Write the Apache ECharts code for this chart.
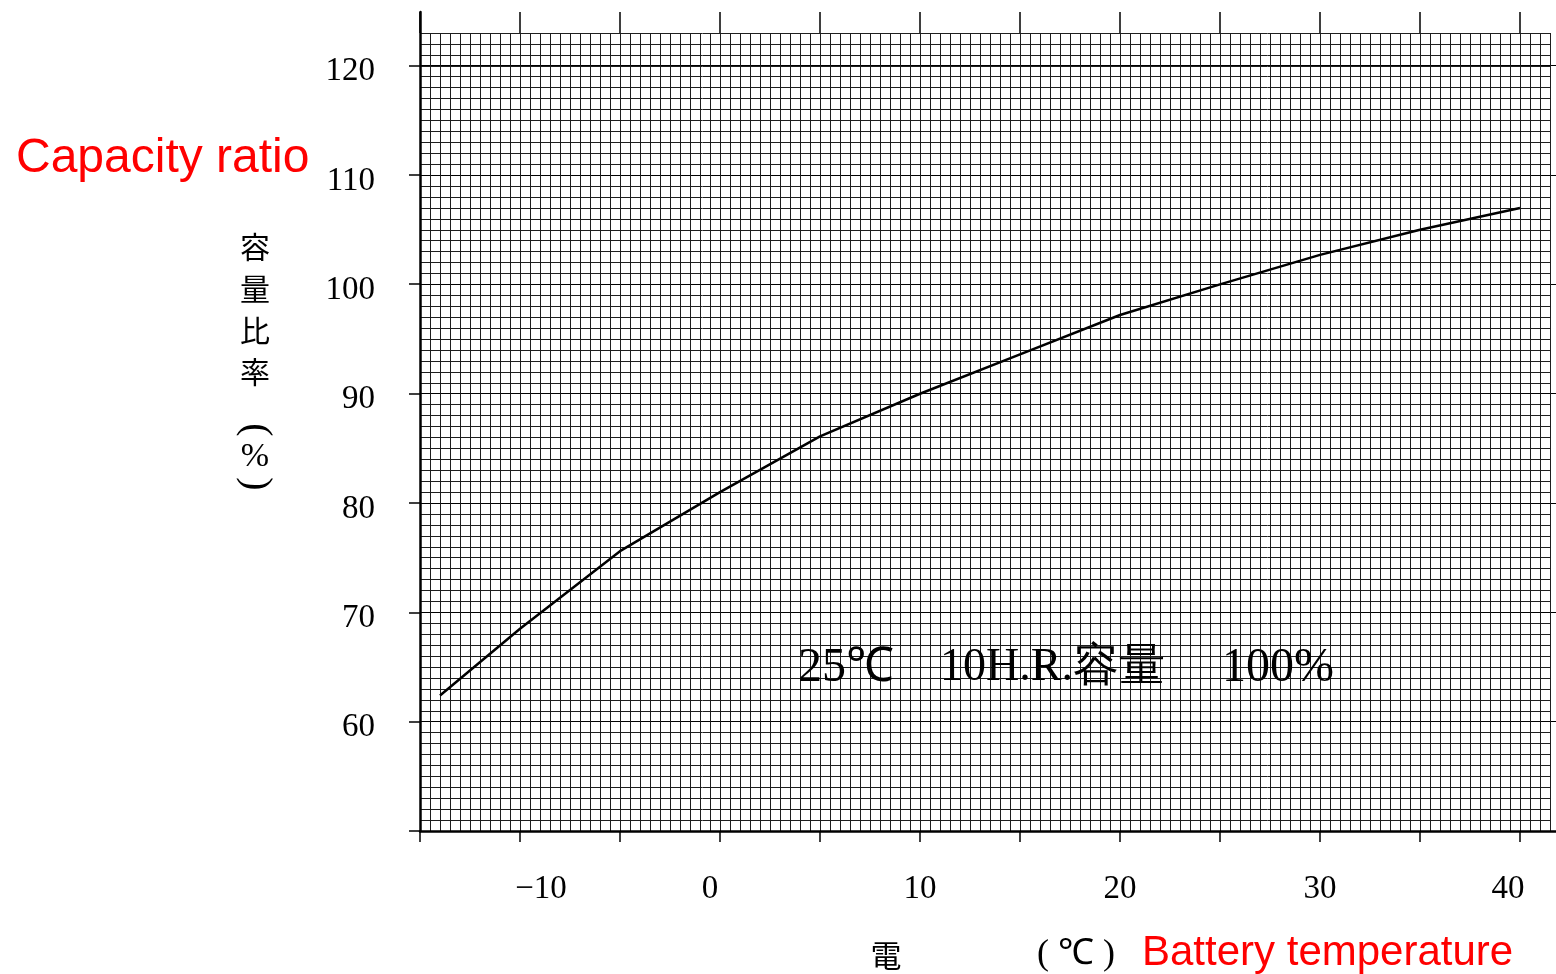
<!DOCTYPE html>
<html>
<head>
<meta charset="utf-8">
<script src="https://cdn.jsdelivr.net/npm/echarts@6/dist/echarts.min.js"></script>
<style>
  html, body { margin: 0; padding: 0; background: #fff; overflow: hidden; }
  #chart { width: 1556px; height: 974px; }
</style>
</head>
<body>
<div id="chart"></div>
<script>
// battery temperature (℃) vs capacity ratio (%)
var temps = [-14, -10, -5, 0, 5, 10, 15, 20, 25, 30, 35, 40];
var ratios = [62.4, 68.5, 75.6, 81.0, 86.1, 90.0, 93.6, 97.2, 100.0, 102.7, 105.0, 107.0];
var xLabels = [-10, 0, 10, 20, 30, 40];
var yLabels = [60, 70, 80, 90, 100, 110, 120];

var serif = 'Liberation Serif';
var cjk = 'Noto Sans CJK JP';

var mychart = echarts.init(document.getElementById('chart'));

var points = temps.map(function (t, i) { return [t, ratios[i]]; });

option = {
    animation: false,
    grid: [
        // fine graph paper
        { left: 420, top: 33, width: 1130, height: 798, outerBoundsMode: 'none' },
        // main axis lines (run past the right edge)
        { left: 420, top: 12, width: 1156, height: 819, outerBoundsMode: 'none' },
        // y labels + major lines
        { left: 420, top: 65.5, width: 1156, height: 765.5, outerBoundsMode: 'none' }
    ],
    xAxis: [
        {
            gridIndex: 0, type: 'value', min: -15, max: 41.5, interval: 0.5,
            axisLine: { show: false }, axisTick: { show: false }, axisLabel: { show: false },
            splitLine: { show: true, lineStyle: { color: '#1e1e1e', width: 1 } }
        },
        {
            gridIndex: 1, type: 'value', position: 'bottom', min: -15, max: 42.8, interval: 5,
            axisLine: { show: true, onZero: false, lineStyle: { color: '#000', width: 2.5 } },
            axisTick: { show: true, length: 11, lineStyle: { color: '#000', width: 1.5 } },
            axisLabel: {
                show: true, margin: 42, color: '#000', fontFamily: serif, fontSize: 33,
                formatter: function (v) {
                    if (xLabels.indexOf(v) < 0) return '';
                    if (v < 0) return '{r|\u2212' + Math.abs(v) + '}';
                    if (v === 0) return '{l|0}';
                    if (v === 40) return '{l2|40}';
                    return String(v);
                },
                rich: {
                    r: { fontFamily: serif, fontSize: 33, color: '#000', padding: [0, 0, 0, 42] },
                    l: { fontFamily: serif, fontSize: 33, color: '#000', padding: [0, 20, 0, 0] },
                    l2: { fontFamily: serif, fontSize: 33, color: '#000', padding: [0, 24, 0, 0] }
                }
            },
            splitLine: { show: false }
        },
        {
            gridIndex: 1, type: 'value', position: 'top', min: -15, max: 42.8, interval: 5,
            axisLine: { show: false, onZero: false },
            axisTick: { show: true, inside: true, length: 21, lineStyle: { color: '#000', width: 1.5 } },
            axisLabel: { show: false },
            splitLine: { show: false }
        },
        {
            gridIndex: 2, type: 'value', min: -15, max: 42.8, show: false
        }
    ],
    yAxis: [
        {
            gridIndex: 0, type: 'value', min: 50, max: 123, interval: 1,
            axisLine: { show: false }, axisTick: { show: false }, axisLabel: { show: false },
            splitLine: { show: true, lineStyle: { color: '#1e1e1e', width: 1 } }
        },
        {
            gridIndex: 1, type: 'value', min: 50, max: 125,
            axisLine: { show: true, onZero: false, lineStyle: { color: '#000', width: 2.5 } },
            axisTick: { show: false }, axisLabel: { show: false }, splitLine: { show: false }
        },
        {
            gridIndex: 2, type: 'value', min: 50, max: 120, interval: 10,
            axisLine: { show: false, onZero: false },
            axisTick: { show: true, length: 11, lineStyle: { color: '#000', width: 1.5 } },
            axisLabel: {
                show: true, margin: 45, color: '#000',
                formatter: function (v) { return yLabels.indexOf(v) < 0 ? '' : '{n|' + v + '}'; },
                rich: {
                    n: { fontFamily: serif, fontSize: 33, color: '#000', padding: [12, 0, 0, 0] }
                }
            },
            splitLine: { show: true, showMinLine: false, lineStyle: { color: '#000', width: 1.2 } }
        }
    ],
    graphic: [
        {
            type: 'text', left: 16, top: 135,
            style: { text: 'Capacity ratio', fill: '#ff0000', fontFamily: 'Liberation Sans', fontSize: 48 }
        },
        {
            type: 'text', x: 1142, y: 953,
            style: { text: 'Battery temperature', fill: '#ff0000', fontFamily: 'Liberation Sans', fontSize: 42, align: 'left', verticalAlign: 'middle' }
        },
        {
            type: 'text', x: 255, y: 226,
            style: { text: '容\n量\n比\n率', fill: '#000', fontFamily: cjk, fontSize: 30, lineHeight: 41.7, align: 'center', verticalAlign: 'top' }
        },
        {
            type: 'text', x: 255, y: 430, rotation: -Math.PI / 2,
            style: { text: '(', fill: '#000', fontFamily: serif, fontSize: 40, align: 'center', verticalAlign: 'middle' }
        },
        {
            type: 'text', x: 255, y: 457,
            style: { text: '%', fill: '#000', fontFamily: serif, fontSize: 34, align: 'center', verticalAlign: 'middle' }
        },
        {
            type: 'text', x: 255, y: 484, rotation: -Math.PI / 2,
            style: { text: ')', fill: '#000', fontFamily: serif, fontSize: 40, align: 'center', verticalAlign: 'middle' }
        },
        {
            type: 'text', x: 886, y: 955,
            style: { text: '電', fill: '#000', fontFamily: cjk, fontSize: 31, align: 'center', verticalAlign: 'middle' }
        },
        {
            type: 'text', x: 1076, y: 955,
            style: { text: '( ℃ )', fill: '#000', fontFamily: serif, fontSize: 36, align: 'center', verticalAlign: 'middle' }
        },
        {
            type: 'text', x: 798, y: 668, z: 10,
            style: { text: '25℃', fill: '#000', fontFamily: serif, fontSize: 48, align: 'left', verticalAlign: 'middle' }
        },
        {
            type: 'text', x: 940, y: 668, z: 10,
            style: { text: '10H.R.容量', fill: '#000', fontFamily: serif, fontSize: 46, align: 'left', verticalAlign: 'middle' }
        },
        {
            type: 'text', x: 1222, y: 668, z: 10,
            style: { text: '100%', fill: '#000', fontFamily: serif, fontSize: 48, align: 'left', verticalAlign: 'middle' }
        }
    ],
    series: [
        {
            name: '容量比率',
            type: 'line',
            xAxisIndex: 0,
            yAxisIndex: 0,
            data: points,
            showSymbol: false,
            smooth: false,
            lineStyle: { color: '#000', width: 2.5 },
            z: 5
        }
    ]
};

mychart.setOption(option);
window.onresize = function () {
    mychart.resize();
};
</script>
</body>
</html>
